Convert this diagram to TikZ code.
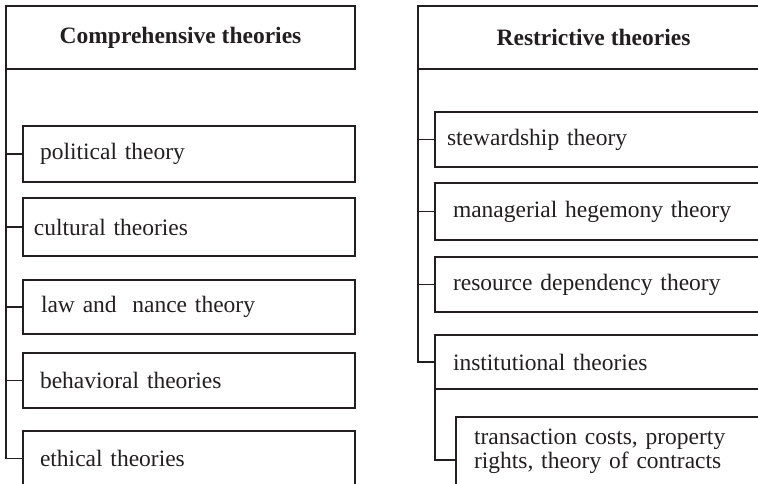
\documentclass[tikz,border=0pt]{standalone}
\usepackage{fontspec}
\setmainfont{Liberation Serif}
\definecolor{ink}{RGB}{35,31,32}
\begin{document}
\begin{tikzpicture}[x=1pt,y=-1pt,
  every node/.style={font=\fontsize{23.5}{29}\selectfont, text=ink},
  frame/.style={draw=ink, line width=1.2pt, rectangle, anchor=north west,
                outer sep=0pt, inner ysep=0pt, align=left},
  head/.style={frame, align=center, minimum height=63pt,
               font=\fontsize{23.5}{29}\selectfont\bfseries},
  link/.style={draw=ink, line width=1.2pt},
]
\useasboundingbox (0,0) rectangle (758,483);
\clip (0,0) rectangle (758,483);

% left column
\node[head, minimum width=349pt] (hc) at (6,6) {Comprehensive theories};
\node[frame, inner xsep=17pt, text width=298pt, minimum height=56pt] (pol) at (23,126) {political theory};
\node[frame, inner xsep=11pt, text width=310pt, minimum height=58pt] (cul) at (23,198) {cultural theories};
\node[frame, inner xsep=18pt, text width=296pt, minimum height=54pt] (law) at (23,280) {law and\ \ nance theory};
\node[frame, inner xsep=17pt, text width=298pt, minimum height=55pt] (beh) at (23,353) {behavioral theories};
\node[frame, inner xsep=17pt, text width=298pt, minimum height=55pt] (eth) at (23,431) {ethical theories};

\draw[link] (hc.south west) |- (eth.west);
\foreach \n in {pol,cul,law,beh}{
  \draw[link] (hc.south west |- \n.west) -- (\n.west);
}

% right column
\node[head, minimum width=351pt] (hr) at (418,6) {Restrictive theories};
\node[frame, inner xsep=12pt, text width=310pt, minimum height=55pt] (stw) at (435,112) {stewardship theory};
\node[frame, inner xsep=18pt, text width=298pt, minimum height=57pt] (mgr) at (435,183) {managerial hegemony theory};
\node[frame, inner xsep=18pt, text width=298pt, minimum height=55pt] (res) at (435,257) {resource dependency theory};
\node[frame, inner xsep=18pt, text width=298pt, minimum height=54pt] (ins) at (435,335) {institutional theories};
\node[frame, inner xsep=18pt, text width=277pt, minimum height=69pt,
      font=\fontsize{23.5}{24}\selectfont] (trc) at (456,417)
      {transaction costs, property\\rights, theory of contracts};
\coordinate (trj) at ([yshift=-43pt]trc.north west);

\draw[link] (hr.south west) |- (ins.west);
\foreach \n in {stw,mgr,res}{
  \draw[link] (hr.south west |- \n.west) -- (\n.west);
}
\draw[link] (ins.south west) |- (trj);
\end{tikzpicture}
\end{document}
